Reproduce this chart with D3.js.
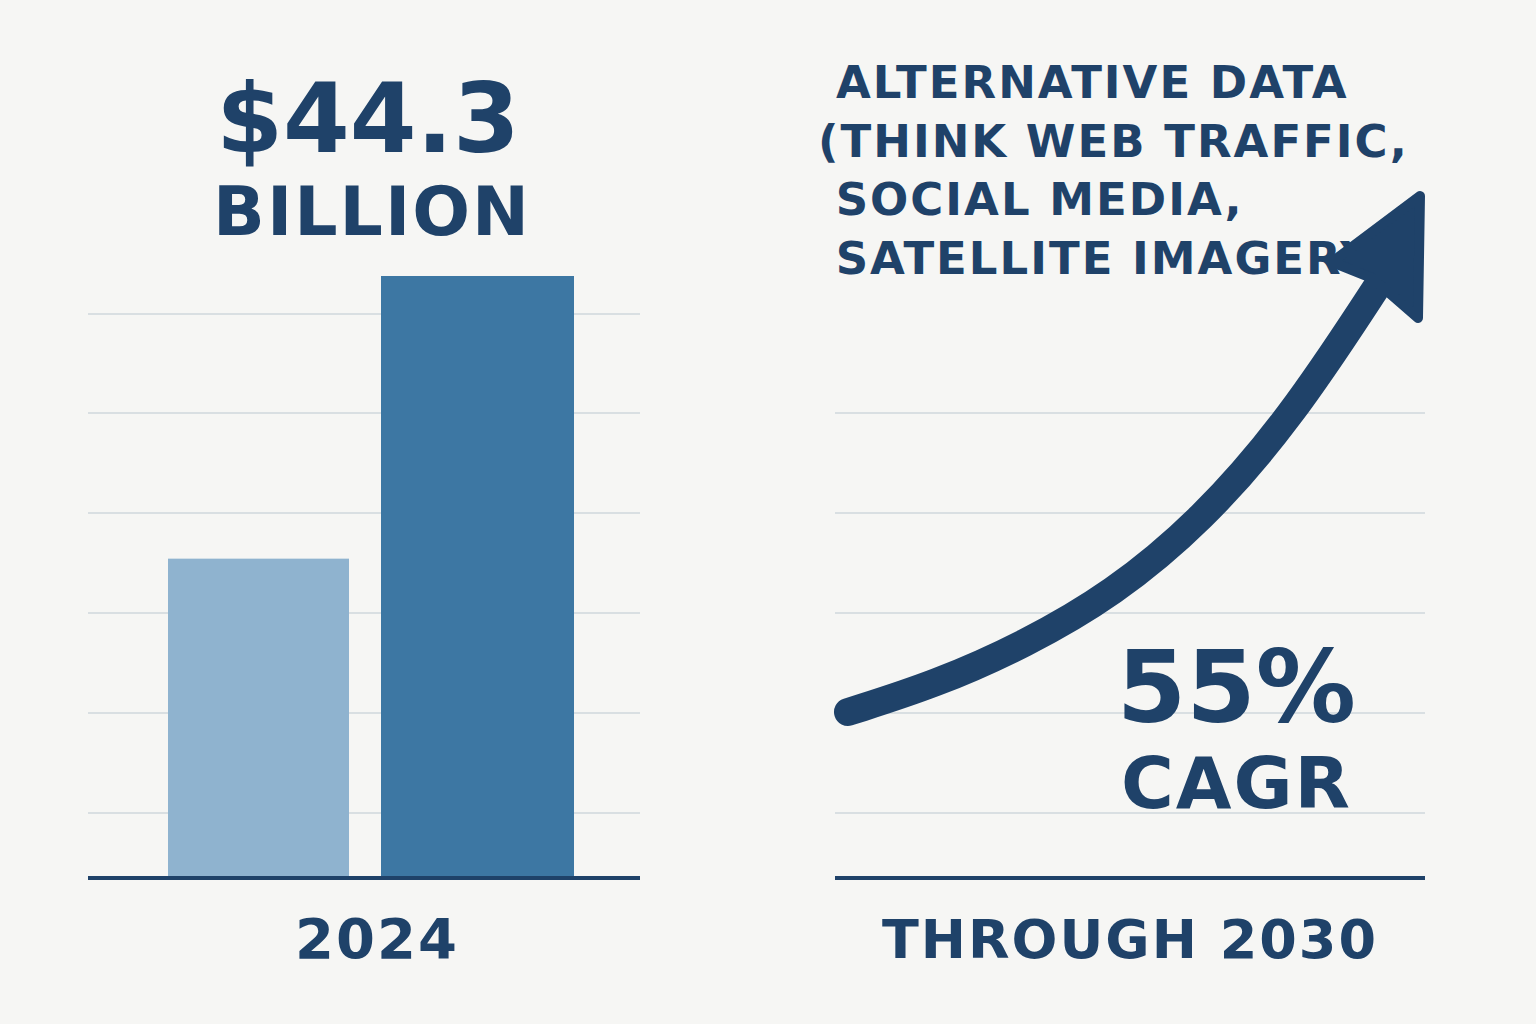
<!DOCTYPE html>
<html><head><meta charset="utf-8">
<script src="https://cdn.jsdelivr.net/npm/d3@7"></script>
<style>body{margin:0;background:#f6f6f4}text{font-family:"DejaVu Sans",sans-serif;font-weight:bold;fill:#1f4269}</style>
</head><body><svg id="c" width="1536" height="1024"></svg>
<script>
// Bar values (billions)
const barLabels = ["before", "2024"];
const barValues = [23.5, 44.3];
const barColors = ["#8fb3cf", "#3d77a3"];
// Growth curve (relative index, year offset)
const growthX = [0, 1, 2, 3, 4, 5, 6];
const growthY = [1, 1.25, 1.6, 2.05, 2.7, 3.6, 4.8];
const titleLines = ["ALTERNATIVE DATA", "(THINK WEB TRAFFIC,", " SOCIAL MEDIA,", " SATELLITE IMAGERY)"];

const svg = d3.select("#c");
const navy = "#1f4269", grid = "#d9dfe2";
svg.append("rect").attr("width", 1536).attr("height", 1024).attr("fill", "#f6f6f4");

// Left panel
const y = d3.scaleLinear().domain([0, 44.3]).range([878, 276]);
const x = d3.scaleOrdinal().domain(barLabels).range([168, 381]);
const w = [181, 193];
[314, 413, 513, 613, 713, 813].forEach(g => svg.append("line").attr("x1", 88).attr("x2", 640)
  .attr("y1", g).attr("y2", g).attr("stroke", grid).attr("stroke-width", 2));
svg.selectAll(".bar").data(barValues).join("rect")
  .attr("x", (d, i) => x(barLabels[i])).attr("width", (d, i) => w[i])
  .attr("y", d => y(d)).attr("height", d => y(0) - y(d)).attr("fill", (d, i) => barColors[i]);
svg.append("line").attr("x1", 88).attr("x2", 640).attr("y1", 878).attr("y2", 878).attr("stroke", navy).attr("stroke-width", 4);
svg.append("text").attr("x", 368).attr("y", 152).attr("text-anchor", "middle").attr("font-size", 96).text("$44.3");
svg.append("text").attr("x", 372).attr("y", 235).attr("text-anchor", "middle").attr("font-size", 68).attr("letter-spacing", 2).text("BILLION");
svg.append("text").attr("x", 377).attr("y", 958).attr("text-anchor", "middle").attr("font-size", 56).attr("letter-spacing", 2).text("2024");

// Right panel
[413, 513, 613, 713, 813].forEach(g => svg.append("line").attr("x1", 835).attr("x2", 1425)
  .attr("y1", g).attr("y2", g).attr("stroke", grid).attr("stroke-width", 2));
svg.append("line").attr("x1", 835).attr("x2", 1425).attr("y1", 878).attr("y2", 878).attr("stroke", navy).attr("stroke-width", 4);

const gx = d3.scaleLinear().domain([0, 6]).range([848, 1378]);
const gy = d3.scaleLinear().domain([1, 4.8]).range([712, 285]);
const line = d3.line().x((d, i) => gx(growthX[i])).y(d => gy(d)).curve(d3.curveBasis);
svg.append("path").attr("d", line(growthY)).attr("fill", "none").attr("stroke", navy)
  .attr("stroke-width", 28).attr("stroke-linecap", "round");
svg.append("path").attr("d", "M1420,196 L1332,262 L1372,278 L1418,318 Z").attr("fill", navy)
  .attr("stroke", navy).attr("stroke-width", 10).attr("stroke-linejoin", "round");

titleLines.forEach((t, i) => svg.append("text").attr("x", i === 0 ? 836 : 818).attr("y", 98 + i * 58.5)
  .attr("font-size", 45).attr("letter-spacing", 2).attr("xml:space", "preserve").text(t));
svg.append("text").attr("x", 1356).attr("y", 722).attr("text-anchor", "end").attr("font-size", 100).text("55%");
svg.append("text").attr("x", 1352).attr("y", 808).attr("text-anchor", "end").attr("font-size", 72).attr("letter-spacing", 2).text("CAGR");
svg.append("text").attr("x", 1130).attr("y", 958).attr("text-anchor", "middle").attr("font-size", 54).attr("letter-spacing", 2).text("THROUGH 2030");
</script></body></html>
